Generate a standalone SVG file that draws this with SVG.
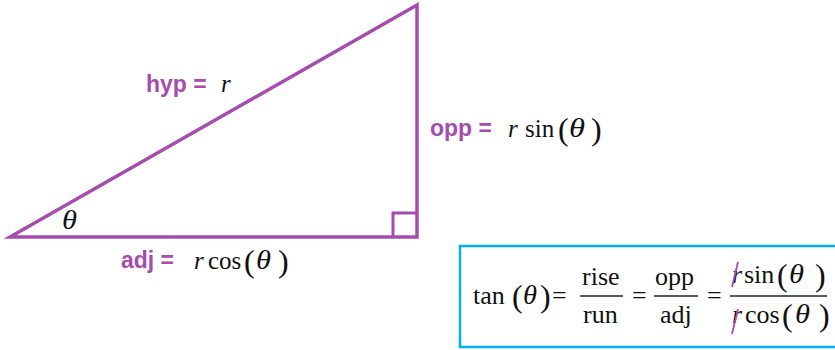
<svg xmlns="http://www.w3.org/2000/svg" width="835" height="350" viewBox="0 0 835 350">
<style>
.edge{fill:none;stroke:#A64CAE;stroke-width:3.5;stroke-linejoin:miter}
.lbl{font-family:"Liberation Sans",Arial,sans-serif;font-weight:bold;font-size:23px;fill:#A64CAE}
.m{font-family:"Liberation Serif","Times New Roman",serif;font-size:25px;fill:#111}
.e{font-family:"Liberation Serif","Times New Roman",serif;font-size:26px;fill:#111}
.i{font-style:italic}
.t{font-size:27px}
.p{font-size:32px}
.fl{stroke:#222;stroke-width:1.3}
.strike{stroke:#A64CAE;stroke-width:1.8}
</style>
<rect width="835" height="350" fill="#fff"/>
<g id="triangle">
<polygon class="edge" points="10,237 417,5 417,237"/>
<polyline class="edge" points="393,237 393,213 417,213" style="stroke-width:3"/>
<text class="m i t" x="62" y="229" textLength="15" lengthAdjust="spacingAndGlyphs">θ</text>
</g>
<g id="hyp">
<text class="lbl" x="146" y="92">hyp =</text>
<text class="m i" x="221" y="92">r</text>
</g>
<g id="opp">
<text class="lbl" x="430" y="136">opp =</text>
<text class="m i" x="508" y="137">r</text>
<text class="m" x="525" y="137">sin</text>
<text class="m p" x="558" y="140">(</text>
<text class="m i t" x="569" y="137" textLength="16" lengthAdjust="spacingAndGlyphs">θ</text>
<text class="m p" x="591" y="140">)</text>
</g>
<g id="adj">
<text class="lbl" x="121" y="268">adj =</text>
<text class="m i" x="194" y="269">r</text>
<text class="m" x="208" y="269">cos</text>
<text class="m p" x="244" y="272">(</text>
<text class="m i t" x="256" y="269" textLength="15" lengthAdjust="spacingAndGlyphs">θ</text>
<text class="m p" x="278" y="272">)</text>
</g>
<g id="formula">
<rect x="460" y="246" width="380" height="101" fill="none" stroke="#00B0F0" stroke-width="2.5"/>
<text class="e" x="473" y="304">tan</text>
<text class="e p" x="512" y="307">(</text>
<text class="e i t" x="523" y="304" textLength="14" lengthAdjust="spacingAndGlyphs">θ</text>
<text class="e p" x="540" y="307">)</text>
<text class="e" x="552" y="304">=</text>
<text class="e" x="582" y="285">rise</text>
<line class="fl" x1="580" y1="296" x2="623" y2="296"/>
<text class="e" x="583" y="323">run</text>
<text class="e" x="632" y="304">=</text>
<text class="e" x="655" y="285">opp</text>
<line class="fl" x1="654" y1="296" x2="698" y2="296"/>
<text class="e" x="660" y="323">adj</text>
<text class="e" x="707" y="304">=</text>
<text class="e i" x="732" y="283">r</text>
<text class="e" x="744" y="283">sin</text>
<text class="e p" x="777" y="286">(</text>
<text class="e i t" x="789" y="283" textLength="15" lengthAdjust="spacingAndGlyphs">θ</text>
<text class="e p" x="815" y="286">)</text>
<line class="strike" x1="738" y1="262" x2="732" y2="287"/>
<line class="fl" x1="730" y1="296" x2="827" y2="296"/>
<text class="e i" x="732" y="323">r</text>
<text class="e" x="745" y="323">cos</text>
<text class="e p" x="782" y="326">(</text>
<text class="e i t" x="795" y="323" textLength="15" lengthAdjust="spacingAndGlyphs">θ</text>
<text class="e p" x="819" y="326">)</text>
<line class="strike" x1="738" y1="309" x2="732" y2="334"/>
</g>
</svg>
